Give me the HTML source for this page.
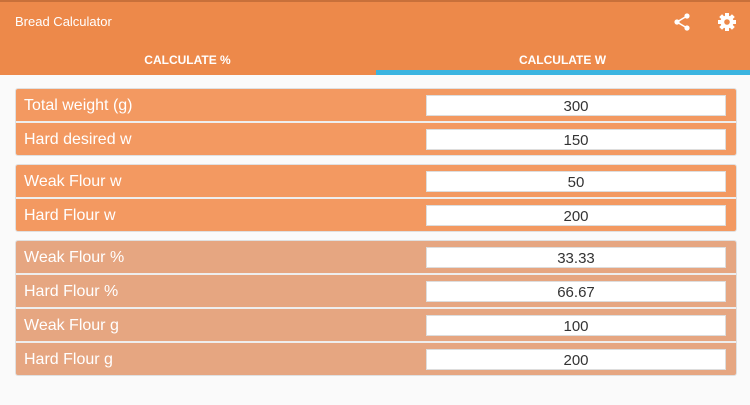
<!DOCTYPE html>
<html><head><style>
body{margin:0;width:750px;height:405px;background:#fafafa;font-family:"Liberation Sans",sans-serif;position:relative;overflow:hidden}
.bar{position:absolute;left:0;top:0;width:750px;height:75px;background:#ed894a;border-top:2px solid #c8703a;box-sizing:border-box}
.title{position:absolute;left:15px;top:14px;color:#fff;font-size:13px}
.tab{position:absolute;top:53px;color:#fff;font-size:12px;font-weight:bold;width:375px;text-align:center}
.ind{position:absolute;left:376px;top:70px;width:374px;height:5px;background:#3bb4e0}
.grp{position:absolute;left:15px;width:720px;border:1px solid #e0e0e0;border-radius:3px;overflow:hidden;background:#eee}
.row{position:relative;height:32px;margin-bottom:2px;color:#fff;font-size:16px}
.row:last-child{margin-bottom:0}
.row span{position:absolute;left:8px;top:8px}
.a{background:#f39961}.b{background:#e6a681}
.in{position:absolute;left:410px;top:6px;width:300px;height:21px;background:#fff;border:1px solid #ddd;box-sizing:border-box;color:#333;text-align:center;font-size:15px;line-height:21px}
</style></head><body>
<div class="bar"></div>
<div class="title">Bread Calculator</div>
<svg style="position:absolute;left:672px;top:12px" width="20" height="20" viewBox="0 0 20 20"><circle cx="15" cy="4" r="2.6" fill="#fff"/><circle cx="5" cy="10" r="2.6" fill="#fff"/><circle cx="15" cy="16" r="2.6" fill="#fff"/><path d="M15 4L5 10L15 16" stroke="#fff" stroke-width="1.6" fill="none"/></svg>
<svg style="position:absolute;left:717px;top:12px" width="20" height="20" viewBox="0 0 20 20"><g fill="#fff"><circle cx="10" cy="10" r="6.5"/><rect x="8" y="1" width="4" height="18"/><rect x="1" y="8" width="18" height="4"/><rect x="8" y="1" width="4" height="18" transform="rotate(45 10 10)"/><rect x="8" y="1" width="4" height="18" transform="rotate(-45 10 10)"/></g><circle cx="10" cy="10" r="2.8" fill="#ed894a"/></svg>
<div class="tab" style="left:0">CALCULATE %</div>
<div class="tab" style="left:375px">CALCULATE W</div>
<div class="ind"></div>
<div class="grp" style="top:88px">
<div class="row a"><span>Total weight (g)</span><div class="in">300</div></div>
<div class="row a"><span>Hard desired w</span><div class="in">150</div></div>
</div>
<div class="grp" style="top:164px">
<div class="row a"><span>Weak Flour w</span><div class="in">50</div></div>
<div class="row a"><span>Hard Flour w</span><div class="in">200</div></div>
</div>
<div class="grp" style="top:240px">
<div class="row b"><span>Weak Flour %</span><div class="in">33.33</div></div>
<div class="row b"><span>Hard Flour %</span><div class="in">66.67</div></div>
<div class="row b"><span>Weak Flour g</span><div class="in">100</div></div>
<div class="row b"><span>Hard Flour g</span><div class="in">200</div></div>
</div>
</body></html>
